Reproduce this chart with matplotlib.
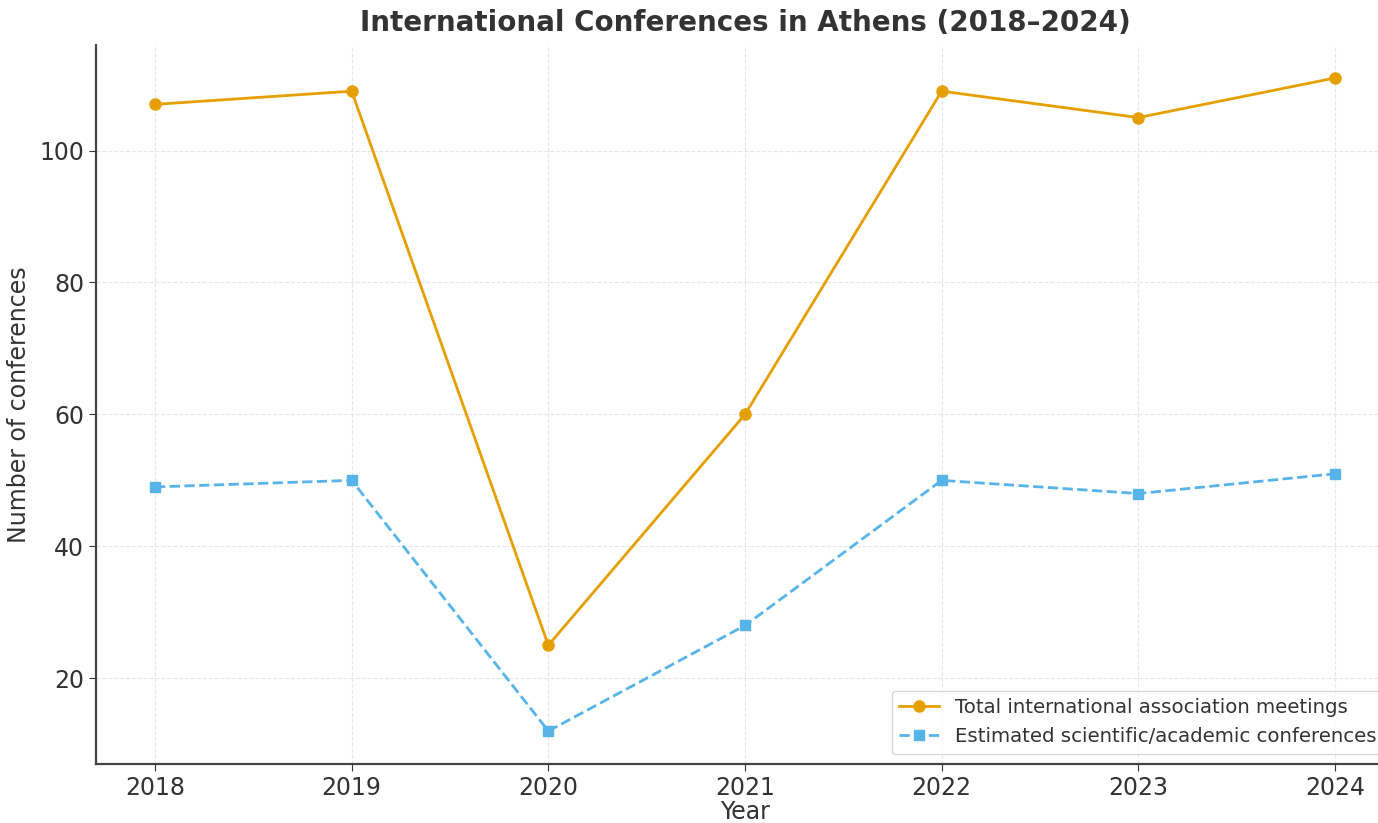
import matplotlib

matplotlib.use("Agg")

import matplotlib.pyplot as plt

years = [2018, 2019, 2020, 2021, 2022, 2023, 2024]
total_meetings = [107, 109, 25, 60, 109, 105, 111]
scientific = [49, 50, 12, 28, 50, 48, 51]

TEXT = "#333333"

fig = plt.figure(figsize=(13.78, 8.23), dpi=100)
# axes runs a bit past the right edge, like the cropped reference
ax = fig.add_axes([96 / 1378, 59 / 823, 1298 / 1378, 719 / 823])

ax.plot(years, total_meetings, color="#E69F00", marker="o", markersize=8,
        linewidth=2, label="Total international association meetings")
ax.plot(years, scientific, color="#56B4E9", marker="s", markersize=7,
        linewidth=2, linestyle="--", label="Estimated scientific/academic conferences")

ax.set_xlim(2017.7, 2024.3)
ax.set_ylim(7, 116)
ax.set_yticks([20, 40, 60, 80, 100])
ax.set_xticks(years)

ax.set_title("International Conferences in Athens (2018\u20132024)", fontsize=20,
             fontweight="bold", color=TEXT, pad=10)
ax.set_xlabel("Year", fontsize=17, color=TEXT, labelpad=0)
ax.set_ylabel("Number of conferences", fontsize=17, color=TEXT, labelpad=6)

ax.tick_params(labelsize=17, colors=TEXT, length=5)
ax.grid(True, linestyle="--", linewidth=0.8, color="#e6e6e6")
ax.set_axisbelow(True)
for side in ("top", "right"):
    ax.spines[side].set_visible(False)
for side in ("left", "bottom"):
    ax.spines[side].set_color("#444444")
    ax.spines[side].set_linewidth(1.6)

leg = ax.legend(loc="lower right", fontsize=14.2, frameon=True)
for t in leg.get_texts():
    t.set_color(TEXT)

fig.savefig("out.png", dpi=100)
